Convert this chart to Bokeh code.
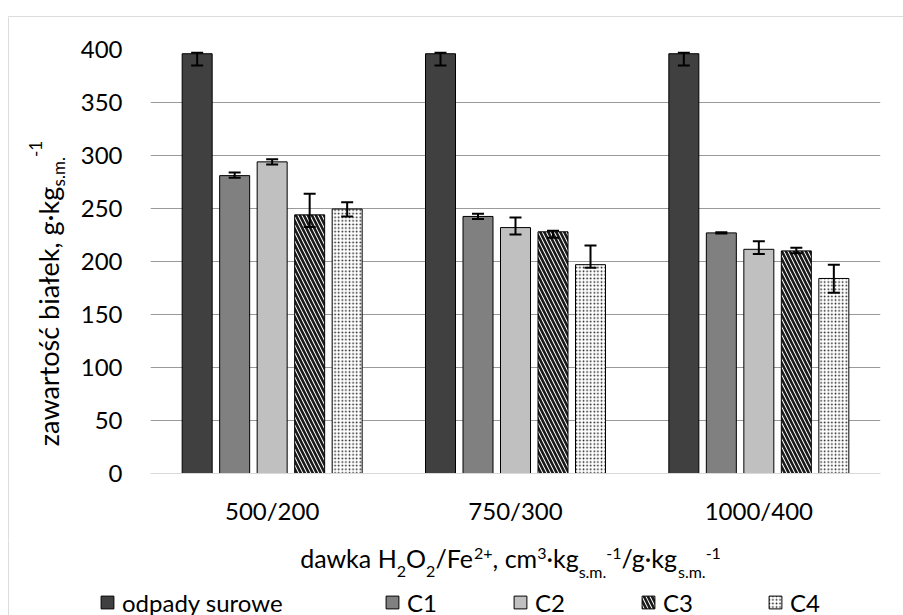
import os, struct, subprocess
from math import pi
from bokeh.plotting import figure
from bokeh.layouts import column, row
from bokeh.models import (ColumnDataSource, FactorRange, Range1d, Whisker, TeeHead, Label,
                          Legend, LegendItem, FixedTicker, BoxAnnotation, Plot)
from bokeh.transform import dodge
from bokeh.embed import file_html
from bokeh.resources import INLINE

# ---------------- data ----------------
groups = ["500/200", "750/300", "1000/400"]
series = ["odpady surowe", "C1", "C2", "C3", "C4"]

odpady = [396, 396, 396]
odpady_lo = [385, 385, 385]
odpady_hi = [397, 397, 397]

c1 = [281, 242.5, 227]
c1_lo = [279, 240, 226.3]
c1_hi = [284, 245, 227.7]

c2 = [294, 232, 211.5]
c2_lo = [291.5, 225.5, 207]
c2_hi = [296.5, 241.5, 219]

c3 = [244, 228, 210]
c3_lo = [232.5, 222.5, 207.8]
c3_hi = [264, 229, 213]

c4 = [249.5, 197, 184]
c4_lo = [242.5, 194, 170.5]
c4_hi = [256, 215, 197]

y_ticks = [0, 50, 100, 150, 200, 250, 300, 350, 400]

# ---------------- font metrics (for composing sub/superscript titles) ----------------
FONT = "Lato"


def find_font():
    try:
        out = subprocess.run(["fc-match", "-f", "%{file}", "Lato:style=Regular"],
                             capture_output=True, text=True, timeout=5).stdout.strip()
        if out and os.path.exists(out) and "lato" in out.lower():
            return out
    except Exception:
        pass
    for root in ["/usr/share/fonts", "/usr/local/share/fonts"]:
        for dp, dn, fn in os.walk(root):
            for f in fn:
                if f.lower() in ("lato-regular.ttf", "lato-regular.otf"):
                    return os.path.join(dp, f)
    return None


class Metrics:
    def __init__(self, path):
        d = open(path, "rb").read()
        base = 0
        if d[:4] == b"ttcf":
            base = struct.unpack(">I", d[12:16])[0]
        n = struct.unpack(">H", d[base + 4:base + 6])[0]
        t = {}
        for i in range(n):
            o = base + 12 + 16 * i
            tag, cs, off, ln = struct.unpack(">4sIII", d[o:o + 16])
            t[tag.decode("latin1")] = off
        self.upem = struct.unpack(">H", d[t["head"] + 18:t["head"] + 20])[0]
        nh = struct.unpack(">H", d[t["hhea"] + 34:t["hhea"] + 36])[0]
        hm = t["hmtx"]
        self.adv = [struct.unpack(">H", d[hm + 4 * i:hm + 4 * i + 2])[0] for i in range(nh)]
        cm = t["cmap"]
        nsub = struct.unpack(">H", d[cm + 2:cm + 4])[0]
        sub = None
        for i in range(nsub):
            pid, eid, off = struct.unpack(">HHI", d[cm + 4 + 8 * i:cm + 12 + 8 * i])
            fmt = struct.unpack(">H", d[cm + off:cm + off + 2])[0]
            if fmt == 4:
                sub = cm + off
                if pid == 3:
                    break
        sx2 = struct.unpack(">H", d[sub + 6:sub + 8])[0]
        seg = sx2 // 2
        self.ends = struct.unpack(">%dH" % seg, d[sub + 14:sub + 14 + sx2])
        so = sub + 16 + sx2
        self.starts = struct.unpack(">%dH" % seg, d[so:so + sx2])
        do = so + sx2
        self.deltas = struct.unpack(">%dh" % seg, d[do:do + sx2])
        self.ro = do + sx2
        self.ros = struct.unpack(">%dH" % seg, d[self.ro:self.ro + sx2])
        self.d = d
        self.seg = seg

    def gid(self, c):
        for i in range(self.seg):
            if self.ends[i] >= c:
                if self.starts[i] > c:
                    return 0
                if self.ros[i] == 0:
                    return (c + self.deltas[i]) & 0xFFFF
                a = self.ro + 2 * i + self.ros[i] + 2 * (c - self.starts[i])
                g = struct.unpack(">H", self.d[a:a + 2])[0]
                return (g + self.deltas[i]) & 0xFFFF if g else 0
        return 0

    def width(self, s, size):
        tot = 0
        for ch in s:
            g = self.gid(ord(ch))
            tot += self.adv[min(g, len(self.adv) - 1)]
        return tot / self.upem * size


FALLBACK = {" ": .193, "a": .513, "b": .566, "c": .474, "d": .566, "e": .526, "f": .334,
            "g": .51, "i": .243, "k": .498, "l": .243, "ł": .28, "m": .843, "n": .566,
            "o": .566, "p": .566, "r": .376, "s": .42, "ś": .42, "ć": .474, "t": .357,
            "u": .566, "w": .79, "y": .51, "z": .45, "H": .744, "O": .78, "F": .55,
            "C": .663, "/": .384, ",": .22, ".": .22, "·": .22, "-": .34, "+": .58}


def fallback_width(s, size):
    return sum(FALLBACK.get(ch, .58 if ch.isdigit() else .55) for ch in s) * size


try:
    _fp = find_font()
    _m = Metrics(_fp) if _fp else None
except Exception:
    _m = None


def text_width(s, size):
    if _m is not None:
        try:
            return _m.width(s, size)
        except Exception:
            pass
    return fallback_width(s, size)


# ---------------- layout constants (page pixels) ----------------
W, H = 903, 615
TOP_H = 17                 # strip holding the top border line
LEFT_W = 70                # strip holding the y title
BOTTOM_H = 75              # strip holding the x title and legend
MID_H = H - TOP_H - BOTTOM_H
FRAME_L, FRAME_R, FRAME_T, FRAME_B = 150, 880, 49, 473
MAIN = 24
TXT = "#000000"
BORDER = "#8c8c8c"
MID_EM = 0.387             # text anchor sits this far (in em) above the glyph baseline
HAS_FRAME_ALIGN = "frame_align" in Plot.properties()


def no_align(f):
    if HAS_FRAME_ALIGN:
        f.frame_align = False


def blank_fig(w, h):
    f = figure(frame_width=w, frame_height=h, x_range=Range1d(0, 1), y_range=Range1d(0, 1),
               output_backend="svg", toolbar_location=None, min_border=0,
               x_axis_type=None, y_axis_type=None)
    f.outline_line_color = None
    f.background_fill_color = "white"
    f.border_fill_color = "white"
    no_align(f)
    return f


def border_box(f, page_x0, page_y0, h):
    # left and top chart border (only the part inside this strip is shown)
    f.add_layout(BoxAnnotation(left=8 - page_x0, right=2000, top=h - (16 - page_y0),
                               bottom=-2000, left_units="screen", right_units="screen",
                               top_units="screen", bottom_units="screen",
                               fill_alpha=0, line_color=BORDER, line_width=1, level="overlay"))


# ---------------- main chart ----------------
p = figure(x_range=FactorRange(*groups), y_range=(0, 400),
           width=W - LEFT_W, height=MID_H,
           output_backend="svg", toolbar_location=None,
           min_border_left=FRAME_L - LEFT_W, min_border_right=W - FRAME_R,
           min_border_top=FRAME_T - TOP_H, min_border_bottom=TOP_H + MID_H - FRAME_B)
no_align(p)
p.outline_line_color = None
p.background_fill_color = "white"
p.border_fill_color = "white"

p.xgrid.grid_line_color = None
p.ygrid.ticker = FixedTicker(ticks=y_ticks[1:])
p.ygrid.grid_line_color = "#9a9a9a"
p.ygrid.grid_line_width = 1

p.yaxis.ticker = FixedTicker(ticks=y_ticks)
p.yaxis.axis_line_color = None
p.yaxis.major_tick_line_color = None
p.yaxis.minor_tick_line_color = None
p.yaxis.major_tick_out = 0
p.yaxis.major_tick_in = 0
p.yaxis.major_label_standoff = 28
p.yaxis.major_label_text_font = FONT
p.yaxis.major_label_text_font_size = f"{MAIN}px"
p.yaxis.major_label_text_color = TXT

p.xaxis.axis_line_color = "#d9d9d9"
p.xaxis.axis_line_width = 1
p.xaxis.major_tick_line_color = None
p.xaxis.minor_tick_line_color = None
p.xaxis.major_tick_out = 0
p.xaxis.major_tick_in = 0
p.xaxis.major_label_standoff = 22
p.xaxis.major_label_text_font = FONT
p.xaxis.major_label_text_font_size = f"{MAIN}px"
p.xaxis.major_label_text_color = TXT

GROUP_PX = (FRAME_R - FRAME_L) / len(groups)
BAR_W = 30 / GROUP_PX
STEP = 37.5 / GROUP_PX
offsets = [-2 * STEP, -STEP, 0, STEP, 2 * STEP]

styles = [
    dict(fill_color="#404040", line_color="#000000"),
    dict(fill_color="#808080", line_color="#000000"),
    dict(fill_color="#c0c0c0", line_color="#000000"),
    dict(fill_color="#ffffff", line_color="#000000", hatch_pattern="\\", hatch_color="#1a1a1a",
         hatch_scale=8, hatch_weight=2.6),
    dict(fill_color="#ffffff", line_color="#000000", hatch_pattern=".", hatch_color="#1a1a1a",
         hatch_scale=3.6, hatch_weight=1.6),
]

values = [odpady, c1, c2, c3, c4]
lows = [odpady_lo, c1_lo, c2_lo, c3_lo, c4_lo]
highs = [odpady_hi, c1_hi, c2_hi, c3_hi, c4_hi]

for name, vals, lo, hi, off, st in zip(series, values, lows, highs, offsets, styles):
    src = ColumnDataSource(dict(g=groups, v=vals, lo=lo, hi=hi))
    p.vbar(x=dodge("g", off, range=p.x_range), top="v", bottom=0, width=BAR_W,
           source=src, line_width=1, **st)
    p.add_layout(Whisker(base=dodge("g", off, range=p.x_range), lower="lo", upper="hi",
                         source=src, line_color="#000000", line_width=2, level="annotation",
                         lower_head=TeeHead(size=12, line_color="#000000", line_width=2),
                         upper_head=TeeHead(size=12, line_color="#000000", line_width=2)))

# ---------------- top strip ----------------
top = blank_fig(W, TOP_H)
border_box(top, 0, 0, TOP_H)

# ---------------- titles with sub/superscripts ----------------
x_title = [("dawka H", "n"), ("2", "sub"), ("O", "n"), ("2", "sub"), ("/Fe", "n"),
           ("2+", "sup"), (", cm", "n"), ("3", "sup"), ("·kg", "n"), ("s.m.", "sub"),
           ("-1", "sup"), ("/g·kg", "n"), ("s.m.", "sub"), ("-1", "sup")]
y_title = [("zawartość białek, g·kg", "n"), ("s.m.", "sub"), ("-1", "sup")]

X_SIZE = {"n": 25, "sub": 16, "sup": 16}
Y_SIZE = {"n": 27, "sub": 17, "sup": 17}


def total_width(parts, sizes):
    return sum(text_width(t, sizes[k]) for t, k in parts)


# left strip: rotated y title
left = blank_fig(LEFT_W, MID_H)
border_box(left, 0, TOP_H, MID_H)

YT_BASE = {"n": 58, "sub": 65, "sup": 42}      # page x of each glyph baseline (rotated text)
y_cur = 293 + total_width(y_title, Y_SIZE) / 2  # page y where the title starts
for t, k in y_title:
    ax = YT_BASE[k] - MID_EM * Y_SIZE[k]
    left.add_layout(Label(x=ax, y=(TOP_H + MID_H) - y_cur,
                          x_units="screen", y_units="screen", angle=pi / 2, text=t,
                          text_font=FONT, text_font_size=f"{Y_SIZE[k]}px", text_color=TXT,
                          text_align="left", text_baseline="alphabetic"))
    y_cur -= text_width(t, Y_SIZE[k])

# bottom strip: x title + legend
bottom = blank_fig(W, BOTTOM_H)
border_box(bottom, 0, H - BOTTOM_H, BOTTOM_H)

XT_BASE = {"n": 567, "sub": 577, "sup": 559}    # page y of each glyph baseline
x_cur = 510 - total_width(x_title, X_SIZE) / 2
for t, k in x_title:
    ay = XT_BASE[k] - MID_EM * X_SIZE[k]
    bottom.add_layout(Label(x=x_cur, y=H - ay, x_units="screen", y_units="screen",
                            text=t, text_font=FONT, text_font_size=f"{X_SIZE[k]}px",
                            text_color=TXT, text_align="left", text_baseline="alphabetic"))
    x_cur += text_width(t, X_SIZE[k])

legend_left_px = [99, 384, 512, 640, 767]   # page x of each legend square
legend_center_y = 602
LEG_H = 29
for name, lx, st in zip(series, legend_left_px, styles):
    # legend proxy: same style as the bars, kept outside the strip's visible range
    proxy = bottom.vbar(x=[-5], top=[-5], bottom=[-6], width=0.1, line_width=1, **st)
    lg = Legend(items=[LegendItem(label=name, renderers=[proxy])],
                location=(lx, H - legend_center_y - LEG_H / 2),
                orientation="horizontal", glyph_width=16, glyph_height=16,
                label_standoff=7, padding=0, margin=0, spacing=0,
                border_line_color=None, background_fill_alpha=0,
                label_text_font=FONT, label_text_font_size=f"{MAIN}px",
                label_text_color=TXT, label_height=16)
    bottom.add_layout(lg, "center")

layout = column(top, row(left, p), bottom)
open("out.html", "w").write(file_html(layout, INLINE))
